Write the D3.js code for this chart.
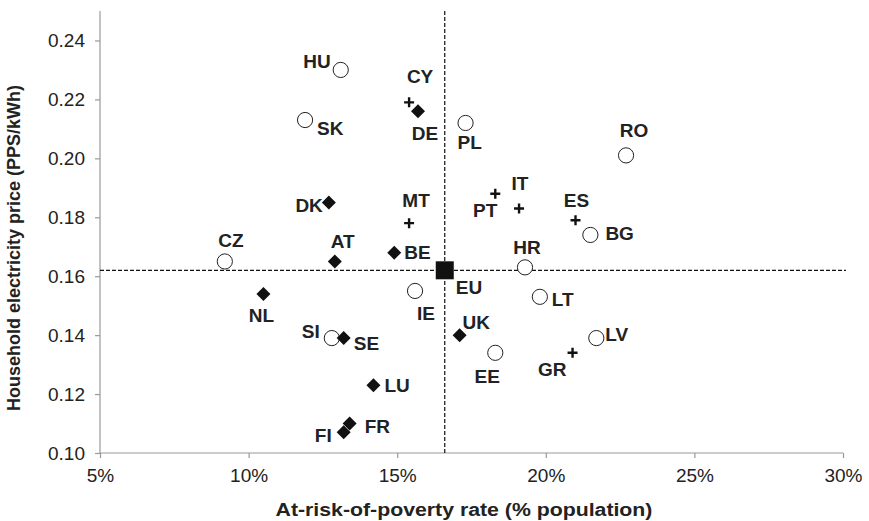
<!DOCTYPE html>
<html>
<head>
<meta charset="utf-8">
<script src="https://cdn.jsdelivr.net/npm/d3@7"></script>
<style>
  body { margin: 0; background: #fff; }
  svg { display: block; font-family: "Liberation Sans", Arial, Helvetica, sans-serif; }
</style>
</head>
<body>
<svg id="chart" width="869" height="521"></svg>
<script>
// data
var countries = ['HU', 'CY', 'DE', 'SK', 'PL', 'DK', 'MT', 'PT', 'IT', 'ES', 'BG', 'RO', 'AT', 'BE', 'CZ',
  'NL', 'HR', 'EU', 'IE', 'LT', 'UK', 'SI', 'SE', 'EE', 'GR', 'LV', 'LU', 'FR', 'FI']
var poverty = [13.1, 15.4, 15.7, 11.9, 17.3, 12.7, 15.4, 18.3, 19.1, 21.0, 21.5, 22.7, 12.9, 14.9, 9.2,
  10.5, 19.3, 16.6, 15.6, 19.8, 17.1, 12.8, 13.2, 18.3, 20.9, 21.7, 14.2, 13.4, 13.2]
var price = [0.230, 0.219, 0.216, 0.213, 0.212, 0.185, 0.178, 0.188, 0.183, 0.179, 0.174, 0.201, 0.165, 0.168, 0.165,
  0.154, 0.163, 0.162, 0.155, 0.153, 0.140, 0.139, 0.139, 0.134, 0.134, 0.139, 0.123, 0.110, 0.107]
// o = open circle, d = filled diamond, p = plus, s = EU square
var group = ['o', 'p', 'd', 'o', 'o', 'd', 'p', 'p', 'p', 'p', 'o', 'o', 'd', 'd', 'o',
  'd', 'o', 's', 'o', 'o', 'd', 'o', 'd', 'o', 'p', 'o', 'd', 'd', 'd']
var xTicks = [5, 10, 15, 20, 25, 30]
var yTicks = [0.10, 0.12, 0.14, 0.16, 0.18, 0.20, 0.22, 0.24]
var euPoverty = 16.6
var euPrice = 0.162

// where each label sits next to its marker (anchor, dx, dy)
var labelPos = {
  HU: ['end', -10, -2], CY: ['middle', 11, -19], DE: ['middle', 7, 29], SK: ['start', 12, 15],
  PL: ['start', -8, 26], DK: ['end', -6, 9], MT: ['middle', 7, -16], PT: ['end', 2, 23],
  IT: ['middle', 1, -18], ES: ['middle', 1, -13], BG: ['start', 15, 5], RO: ['middle', 8, -18],
  AT: ['middle', 8, -13], BE: ['start', 10, 6], CZ: ['middle', 6, -14], NL: ['middle', -2, 28],
  HR: ['middle', 2, -13], EU: ['start', 11, 24], IE: ['middle', 11, 29], LT: ['start', 12, 9],
  UK: ['start', 3, -6], SI: ['end', -12, 0], SE: ['start', 10, 12], EE: ['middle', -8, 30],
  GR: ['end', -6, 23], LV: ['start', 9, 3], LU: ['start', 11, 7], FR: ['start', 15, 9],
  FI: ['end', -12, 10]
}

var svg = d3.select('#chart')

var x = d3.scaleLinear().domain([5, 30]).range([100, 843])
var y = d3.scaleLinear().domain([0.10, 0.25]).range([453, 11])

var points = countries.map(function (c, i) {
  return { name: c, px: poverty[i], pr: price[i], g: group[i] }
})

// axes
var xAxis = svg.append('g')
  .attr('transform', 'translate(0,' + y(0.10) + ')')
  .call(d3.axisBottom(x).tickValues(xTicks).tickSize(5).tickPadding(11)
    .tickFormat(function (d) { return d + '%' }))
var yAxis = svg.append('g')
  .attr('transform', 'translate(' + x(5) + ',0)')
  .call(d3.axisLeft(y).tickValues(yTicks).tickSize(5).tickPadding(10)
    .tickFormat(d3.format('.2f')))

svg.selectAll('.domain').attr('stroke', '#999').attr('stroke-width', 1.2)
yAxis.select('.domain').attr('d', 'M0,' + y(0.25) + 'V' + y(0.10))
xAxis.select('.domain').attr('d', 'M' + x(5) + ',0H' + x(30))
svg.selectAll('.tick line').attr('stroke', '#999').attr('stroke-width', 1.2)
svg.selectAll('.tick text').attr('font-size', 19).attr('fill', '#222')
  .attr('font-family', '"Liberation Sans", Arial, sans-serif')

// EU average reference lines
svg.append('line')
  .attr('x1', x(5)).attr('x2', x(30.1))
  .attr('y1', y(euPrice)).attr('y2', y(euPrice))
  .attr('stroke', '#111').attr('stroke-width', 1.2).attr('stroke-dasharray', '4,2')
svg.append('line')
  .attr('x1', x(euPoverty)).attr('x2', x(euPoverty))
  .attr('y1', y(0.10)).attr('y2', y(0.25))
  .attr('stroke', '#111').attr('stroke-width', 1.2).attr('stroke-dasharray', '4,2')

// markers
var mk = svg.append('g')
mk.selectAll('circle')
  .data(points.filter(function (d) { return d.g === 'o' }))
  .enter().append('circle')
  .attr('cx', function (d) { return x(d.px) })
  .attr('cy', function (d) { return y(d.pr) })
  .attr('r', 7.6)
  .attr('fill', '#fff').attr('stroke', '#222').attr('stroke-width', 1)

mk.selectAll('path.dia')
  .data(points.filter(function (d) { return d.g === 'd' }))
  .enter().append('path').attr('class', 'dia')
  .attr('transform', function (d) { return 'translate(' + x(d.px) + ',' + y(d.pr) + ')' })
  .attr('d', 'M0,-7L7,0L0,7L-7,0Z')
  .attr('fill', '#111')

mk.selectAll('path.plus')
  .data(points.filter(function (d) { return d.g === 'p' }))
  .enter().append('path').attr('class', 'plus')
  .attr('transform', function (d) { return 'translate(' + x(d.px) + ',' + y(d.pr) + ')' })
  .attr('d', 'M-5,0H5M0,-5V5')
  .attr('stroke', '#111').attr('stroke-width', 2.4)

mk.selectAll('rect')
  .data(points.filter(function (d) { return d.g === 's' }))
  .enter().append('rect')
  .attr('x', function (d) { return x(d.px) - 9 })
  .attr('y', function (d) { return y(d.pr) - 9 })
  .attr('width', 18).attr('height', 18)
  .attr('fill', '#111')

// labels
svg.append('g').selectAll('text')
  .data(points)
  .enter().append('text')
  .attr('x', function (d) { return x(d.px) + labelPos[d.name][1] })
  .attr('y', function (d) { return y(d.pr) + labelPos[d.name][2] })
  .attr('text-anchor', function (d) { return labelPos[d.name][0] })
  .attr('font-size', 19).attr('font-weight', 'bold').attr('fill', '#222')
  .text(function (d) { return d.name })

// axis titles
svg.append('text')
  .attr('transform', 'translate(464,516) scale(1.12,1)')
  .attr('text-anchor', 'middle')
  .attr('font-size', 19).attr('font-weight', 'bold').attr('fill', '#222')
  .text('At-risk-of-poverty rate (% population)')
svg.append('text')
  .attr('transform', 'translate(20,248) rotate(-90)')
  .attr('text-anchor', 'middle')
  .attr('font-size', 18).attr('font-weight', 'bold').attr('fill', '#222')
  .text('Household electricity price (PPS/kWh)')
</script>
</body>
</html>
